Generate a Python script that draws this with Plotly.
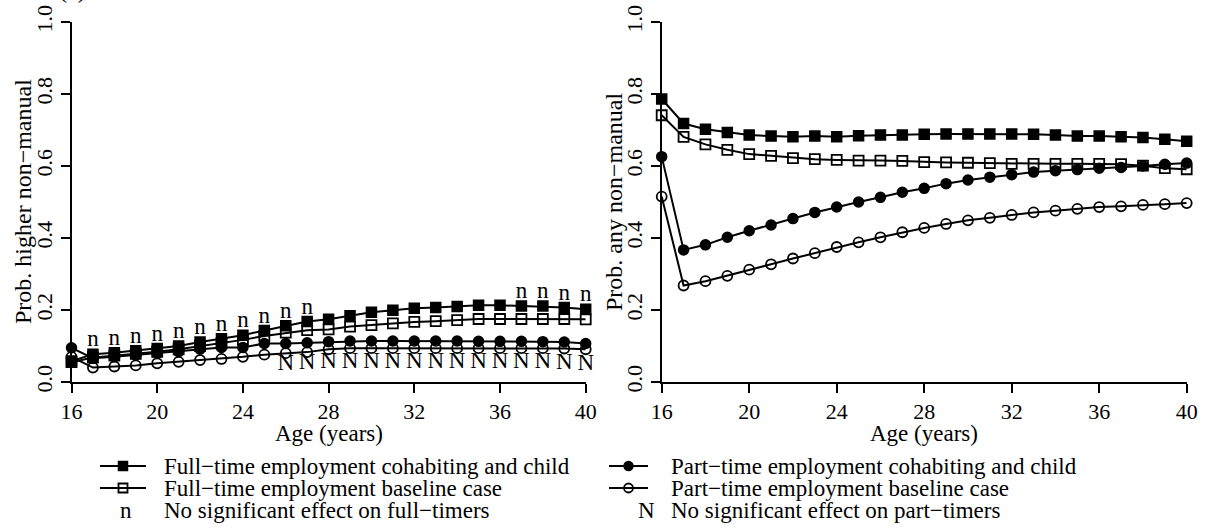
import plotly.graph_objects as go

# ages on the x axis
ages = list(range(16, 41))

# panel (a): probability of higher non-manual occupation
higher_ft_child = [0.058, 0.077, 0.081, 0.087, 0.093, 0.100, 0.111, 0.120, 0.130, 0.143, 0.156, 0.168, 0.174,
                   0.184, 0.194, 0.199, 0.205, 0.207, 0.210, 0.213, 0.213, 0.211, 0.211, 0.207, 0.202]
higher_ft_base = [0.055, 0.068, 0.073, 0.078, 0.084, 0.091, 0.100, 0.107, 0.117, 0.128, 0.137, 0.144, 0.146,
                  0.154, 0.158, 0.163, 0.167, 0.169, 0.172, 0.175, 0.175, 0.175, 0.175, 0.175, 0.174]
higher_pt_child = [0.095, 0.066, 0.070, 0.075, 0.080, 0.084, 0.091, 0.096, 0.096, 0.107, 0.107, 0.109, 0.112,
                   0.114, 0.114, 0.114, 0.114, 0.114, 0.114, 0.113, 0.113, 0.113, 0.112, 0.111, 0.107]
higher_pt_base = [0.070, 0.040, 0.043, 0.046, 0.052, 0.056, 0.061, 0.064, 0.070, 0.076, 0.080, 0.083, 0.091,
                  0.094, 0.094, 0.094, 0.094, 0.094, 0.094, 0.094, 0.094, 0.094, 0.094, 0.093, 0.091]

# panel (b): probability of any non-manual occupation
any_ft_child = [0.786, 0.718, 0.702, 0.693, 0.686, 0.683, 0.681, 0.683, 0.681, 0.684, 0.686, 0.686, 0.688,
                0.689, 0.689, 0.689, 0.689, 0.688, 0.686, 0.683, 0.683, 0.681, 0.679, 0.674, 0.669]
any_ft_base = [0.741, 0.681, 0.660, 0.645, 0.633, 0.628, 0.622, 0.619, 0.617, 0.615, 0.615, 0.614, 0.611,
               0.610, 0.609, 0.608, 0.606, 0.606, 0.606, 0.606, 0.606, 0.605, 0.601, 0.594, 0.591]
any_pt_child = [0.626, 0.367, 0.381, 0.402, 0.420, 0.436, 0.454, 0.471, 0.486, 0.500, 0.513, 0.527, 0.538,
                0.551, 0.561, 0.569, 0.576, 0.583, 0.587, 0.590, 0.594, 0.596, 0.600, 0.605, 0.608]
any_pt_base = [0.515, 0.268, 0.280, 0.295, 0.312, 0.327, 0.343, 0.358, 0.375, 0.388, 0.402, 0.416, 0.428,
               0.439, 0.449, 0.456, 0.464, 0.471, 0.476, 0.481, 0.486, 0.488, 0.492, 0.494, 0.497]

# ages without a significant effect (panel a)
no_effect_ft = [17, 18, 19, 20, 21, 22, 23, 24, 25, 26, 27, 37, 38, 39, 40]
no_effect_pt = list(range(26, 41))

series_labels = [
    "Full\u2212time employment cohabiting and child",
    "Full\u2212time employment baseline case",
    "Part\u2212time employment cohabiting and child",
    "Part\u2212time employment baseline case",
]
note_labels = ["No significant effect on full\u2212timers", "No significant effect on part\u2212timers"]

FONT = "Liberation Serif, Times New Roman, serif"
W, H = 1208, 531

styles = [
    dict(symbol="square", color="black", line=dict(width=1.5, color="black")),
    dict(symbol="square-open", color="black", line=dict(width=1.8, color="black")),
    dict(symbol="circle", color="black", line=dict(width=1.5, color="black")),
    dict(symbol="circle-open", color="black", line=dict(width=1.8, color="black")),
]

fig = go.Figure()

panels = [
    ("x", "y", [higher_ft_child, higher_ft_base, higher_pt_child, higher_pt_base]),
    ("x2", "y2", [any_ft_child, any_ft_base, any_pt_child, any_pt_base]),
]
for xa, ya, group in panels:
    for vals, st in zip(group, styles):
        fig.add_trace(go.Scatter(
            x=ages, y=vals, xaxis=xa, yaxis=ya,
            mode="lines+markers",
            line=dict(color="black", width=2),
            marker=dict(size=10, **st),
            cliponaxis=False, showlegend=False, hoverinfo="skip",
        ))

# "n" / "N" markers on panel (a)
ft_lookup = dict(zip(ages, higher_ft_child))
pt_lookup = dict(zip(ages, higher_pt_child))
fig.add_trace(go.Scatter(
    x=no_effect_ft, y=[ft_lookup[a] + 0.038 for a in no_effect_ft],
    mode="text", text=["n"] * len(no_effect_ft),
    textfont=dict(family=FONT, size=23, color="black"),
    cliponaxis=False, showlegend=False, hoverinfo="skip",
))
fig.add_trace(go.Scatter(
    x=no_effect_pt, y=[pt_lookup[a] - 0.058 for a in no_effect_pt],
    mode="text", text=["N"] * len(no_effect_pt),
    textfont=dict(family=FONT, size=23, color="black"),
    cliponaxis=False, showlegend=False, hoverinfo="skip",
))

# hand-built legend on an overlay axis measured in pixels
legend_rows = [466, 488, 510]
legend_cols = [(100, 146, 163), (609, 648, 670)]
legend_items = [(0, 0, 0), (0, 1, 1), (1, 0, 2), (1, 1, 3)]
LEG_SIZE = 23
for col, row, idx in legend_items:
    x0, x1, tx = legend_cols[col]
    yy = legend_rows[row]
    fig.add_trace(go.Scatter(
        x=[x0, x1], y=[yy, yy], xaxis="x3", yaxis="y3",
        mode="lines", line=dict(color="black", width=2),
        showlegend=False, hoverinfo="skip",
    ))
    fig.add_trace(go.Scatter(
        x=[(x0 + x1) / 2], y=[yy], xaxis="x3", yaxis="y3",
        mode="markers", marker=dict(size=9, **styles[idx]),
        showlegend=False, hoverinfo="skip",
    ))
    fig.add_annotation(x=tx, y=yy, xref="x3", yref="y3", text=series_labels[idx],
                       showarrow=False, xanchor="left", yanchor="middle", borderpad=0,
                       font=dict(family=FONT, size=LEG_SIZE, color="black"))

for (sym, sx), tx, label in zip([("n", 126), ("N", 646)], [163, 670], note_labels):
    fig.add_annotation(x=sx, y=legend_rows[2], xref="x3", yref="y3", text=sym,
                       showarrow=False, xanchor="center", yanchor="middle", borderpad=0,
                       font=dict(family=FONT, size=LEG_SIZE, color="black"))
    fig.add_annotation(x=tx, y=legend_rows[2], xref="x3", yref="y3", text=label,
                       showarrow=False, xanchor="left", yanchor="middle", borderpad=0,
                       font=dict(family=FONT, size=LEG_SIZE, color="black"))

# panel tag, cut off at the top edge like the source
fig.add_annotation(x=72, y=5, xref="x3", yref="y3", text="(a)",
                   showarrow=False, xanchor="center", yanchor="bottom",
                   font=dict(family=FONT, size=24, color="black"))

ydom = [(H - 382) / H, (H - 22) / H]
xdoms = [[71.5 / W, 585.7 / W], [661.7 / W, 1186.7 / W]]

axis_common = dict(
    showline=True, linecolor="black", linewidth=2,
    ticks="outside", ticklen=9, tickwidth=2, tickcolor="black",
    showgrid=False, zeroline=False, automargin=False,
    tickfont=dict(family=FONT, size=22, color="black"),
)
xaxis_style = dict(axis_common, range=[16, 40], tickvals=[16, 20, 24, 28, 32, 36, 40])
yaxis_style = dict(axis_common, range=[0, 1], tickvals=[0, 0.2, 0.4, 0.6, 0.8, 1.0],
                   tickformat=".1f", tickangle=-90)

fig.update_layout(
    template="none",
    width=W, height=H,
    margin=dict(l=0, r=0, t=0, b=0, autoexpand=False),
    paper_bgcolor="white", plot_bgcolor="rgba(0,0,0,0)",
    font=dict(family=FONT, color="black"),
    xaxis=dict(xaxis_style, domain=xdoms[0], anchor="y"),
    yaxis=dict(yaxis_style, domain=ydom, anchor="x"),
    xaxis2=dict(xaxis_style, domain=xdoms[1], anchor="y2"),
    yaxis2=dict(yaxis_style, domain=ydom, anchor="x2"),
    xaxis3=dict(domain=[0, 1], range=[0, W], visible=False, anchor="y3",
                fixedrange=True, automargin=False),
    yaxis3=dict(domain=[0, 1], range=[H, 0], visible=False, anchor="x3",
                fixedrange=True, automargin=False),
)

# axis titles
for xd, ytitle, yx in [(xdoms[0], "Prob. higher non\u2212manual", 23), (xdoms[1], "Prob. any non\u2212manual", 614)]:
    fig.add_annotation(x=(xd[0] + xd[1]) / 2, y=(H - 433) / H, xref="paper", yref="paper",
                       text="Age (years)", showarrow=False, xanchor="center", yanchor="middle",
                       borderpad=0, font=dict(family=FONT, size=23, color="black"))
    fig.add_annotation(x=yx / W, y=(ydom[0] + ydom[1]) / 2, xref="paper", yref="paper",
                       text=ytitle, showarrow=False, textangle=-90,
                       xanchor="center", yanchor="middle",
                       font=dict(family=FONT, size=24, color="black"))

# drop the browser's default page margin so the figure sits at the window corner
fig.write_html("out.html", config={"displayModeBar": False},
               post_script="document.body.style.margin='0';")
